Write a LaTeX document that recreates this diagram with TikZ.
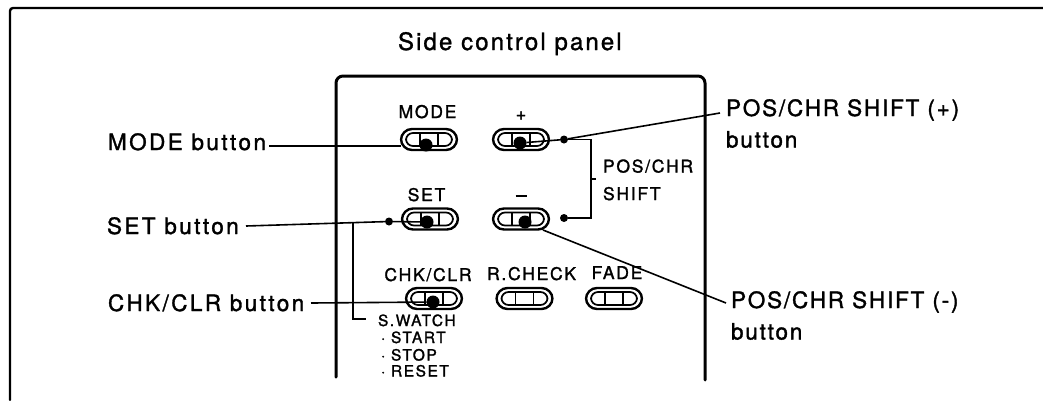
\documentclass[tikz,border=0pt]{standalone}
\usepackage{fontspec}
\setmainfont{TeX Gyre Heros}
\newfontfamily\ttl[FakeBold=1.2,LetterSpace=8.8]{TeX Gyre Heros}
\newfontfamily\lab[FakeBold=1.5,LetterSpace=10.8]{TeX Gyre Heros}
\newfontfamily\labr[FakeBold=1.5,LetterSpace=8]{TeX Gyre Heros}
\newfontfamily\sm[FakeBold=1.5,LetterSpace=10]{TeX Gyre Heros}
\usetikzlibrary{calc}
\tikzset{
  every node/.style={inner sep=0pt,outer sep=0pt},
  titlelabel/.style={font=\ttl\fontsize{24}{24}\selectfont,anchor=base west},
  biglabel/.style={font=\lab\fontsize{22.5}{24}\selectfont,anchor=base west},
  rightlabel/.style={font=\labr\fontsize{22.5}{24}\selectfont,anchor=base west},
  smalllabel/.style={font=\sm\fontsize{17.5}{18}\selectfont,anchor=base},
  tinylabel/.style={font=\sm\fontsize{15.5}{16}\selectfont,anchor=base west},
  outerbtn/.style={draw,line width=2.4pt,rounded corners=11pt,minimum width=56pt,minimum height=21pt},
  innerbtn/.style={draw,line width=1.7pt,rounded corners=7pt,minimum width=46pt,minimum height=13pt},
  knob/.style={circle,fill=black,minimum size=13pt},
  junction/.style={circle,fill=black,minimum size=8pt},
  leader/.style={line width=1.6pt},
  frameline/.style={line width=2.4pt,line cap=round,rounded corners=3pt},
  panelline/.style={line width=3pt,line cap=round,rounded corners=7pt}
}
\newcommand{\btn}[3]{%
  \node[outerbtn] (#1) at (#2,#3) {};
  \node[innerbtn] (#1i) at (#2,#3) {};
  \draw[line width=1.5pt] ($(#2,#3)+(-9,-7)$) -- ($(#2,#3)+(-9,7)$);
  \draw[line width=1.5pt] ($(#2,#3)+(9,-7)$) -- ($(#2,#3)+(9,7)$);
}
\begin{document}
\begin{tikzpicture}[x=1pt,y=-1pt]
\useasboundingbox (0,0) rectangle (1043,400);
\fill[white] (0,0) rectangle (1043,400);
% outer frame
\draw[frameline] (10,400) -- (10,8) -- (1043,8);
% panel
\draw[panelline] (336,377) -- (336,76) -- (705,76) -- (705,380);
% title
\node[titlelabel] (title) at (398,50) {Side control panel};
% buttons
\btn{mode}{429}{139.5}
\btn{plus}{521}{139.5}
\btn{set}{430}{219}
\btn{minus}{521}{219}
\btn{chk}{434}{298.5}
\btn{rchk}{524.5}{298.5}
\btn{fade}{614}{298.5}
% knobs
\node[knob] (kmode) at (426,145) {};
\node[knob] (kplus) at (520,143) {};
\node[knob] (kset) at (427,222) {};
\node[knob] (kminus) at (525,222) {};
\node[knob] (kchk) at (433,302) {};
% button labels
\node[smalllabel] (lmode) at (427.5,118) {MODE};
\node[smalllabel,font=\sm\fontsize{18}{18}\selectfont] (lplus) at (521,120) {+};
\node[smalllabel] (lset) at (426.5,201) {SET};
\node[smalllabel] (lminus) at (521,199) {\rule[2pt]{11pt}{1.8pt}};
\node[smalllabel] (lchk) at (428,281) {CHK/CLR};
\node[smalllabel] (lrchk) at (531.5,280) {R.CHECK};
\node[smalllabel] (lfade) at (617,279) {FADE};
% left labels
\node[biglabel] (tmode) at (108,150) {MODE button};
\node[biglabel] (tset) at (107,234) {SET button};
\node[biglabel] (tchk) at (108,311) {CHK/CLR button};
% right labels
\node[rightlabel] (tp1) at (726,116) {POS/CHR SHIFT (+)};
\node[rightlabel] (tp2) at (726,147.5) {button};
\node[rightlabel] (tm1) at (731,308) {POS/CHR SHIFT (-)};
\node[rightlabel] (tm2) at (731,339.5) {button};
% pos/chr shift
\node[smalllabel,anchor=base west] (ps1) at (603,172.5) {POS/CHR};
\node[smalllabel,anchor=base west] (ps2) at (603,200) {SHIFT};
% stopwatch
\node[tinylabel] (sw) at (378,326) {S.WATCH};
\node[tinylabel] (sw1) at (381,343) {\makebox[10pt][l]{·}START};
\node[tinylabel] (sw2) at (381,360.5) {\makebox[10pt][l]{·}STOP};
\node[tinylabel] (sw3) at (381,376.5) {\makebox[10pt][l]{·}RESET};
% leaders
\coordinate (ma) at (269,146);
\draw[leader] (ma) -- (mode.west |- ma);
\node[junction] (jset) at (389,221.5) {};
\coordinate (sa) at (246,226);
\draw[leader] (sa) -- (jset) -- (kset);
\coordinate (cl) at (353,223);
\coordinate (cb) at (353,319);
\coordinate (ce) at (366,319);
\draw[leader] (cl) -- (cb) -- (ce);
\coordinate (cs) at (311,303);
\draw[leader] (cs) -- (kchk);
% + and -
\node[junction] (jplus) at (564,139.5) {};
\node[junction] (jminus) at (564,218) {};
\coordinate (pe) at (720,113);
\coordinate (me) at (726,303);
\coordinate (ms) at (543,230);
\draw[leader] (kplus) -- (jplus) -- (pe);
\draw[leader] (ms) -- (me);
\coordinate (b1) at (591,139.5);
\coordinate (b2) at (591,218);
\coordinate (t1) at (591,179);
\coordinate (t2) at (596,179);
\draw[leader] (jplus) -- (b1) -- (b2) -- (jminus);
\draw[leader] (t1) -- (t2);
\end{tikzpicture}
\end{document}
